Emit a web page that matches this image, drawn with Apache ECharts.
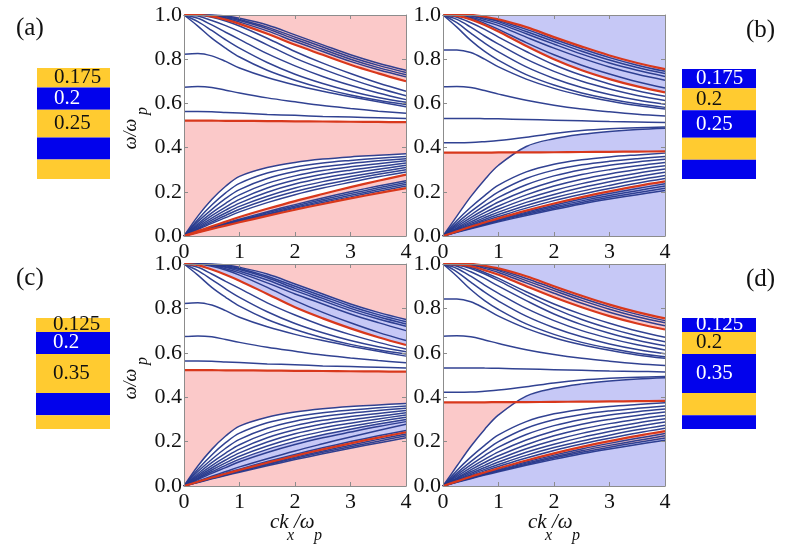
<!DOCTYPE html>
<html><head><meta charset="utf-8">
<script src="https://cdn.jsdelivr.net/npm/echarts@6/dist/echarts.min.js"></script>
<style>html,body{margin:0;padding:0;background:#fff}#c{width:798px;height:550px}</style>
</head><body><div id="c"></div>
<script>
// ---- sample points of the wavevector axis ck_x/omega_p
const kx = [0, 0.25, 0.5, 0.75, 1, 1.5, 2, 2.5, 3, 3.5, 4];

// ---- panels (a)/(c): upper family
const acU1 = [1.0, 1.0, 1.0, 0.995, 0.985, 0.955, 0.91, 0.865, 0.82, 0.782, 0.75];
const acU2 = [1.0, 1.0, 0.999, 0.992, 0.98, 0.945, 0.9, 0.855, 0.81, 0.772, 0.74];
const acU3 = [1.0, 1.0, 0.998, 0.988, 0.975, 0.938, 0.89, 0.845, 0.8, 0.762, 0.73];
const acU4 = [1.0, 1.0, 0.997, 0.985, 0.968, 0.928, 0.88, 0.835, 0.79, 0.752, 0.72];
const acU5 = [1.0, 1.0, 0.994, 0.979, 0.96, 0.915, 0.865, 0.82, 0.775, 0.736, 0.70];
const acW1 = [1.0, 0.999, 0.99, 0.973, 0.95, 0.895, 0.835, 0.782, 0.735, 0.692, 0.655];
const acW2 = [1.0, 0.995, 0.975, 0.952, 0.925, 0.865, 0.805, 0.755, 0.71, 0.67, 0.635];
const acW3 = [1.0, 0.985, 0.955, 0.922, 0.89, 0.825, 0.77, 0.722, 0.682, 0.647, 0.617];
const acW4 = [1.0, 0.97, 0.93, 0.888, 0.85, 0.785, 0.732, 0.69, 0.655, 0.627, 0.605];
const acW5 = [1.0, 0.95, 0.895, 0.85, 0.81, 0.75, 0.705, 0.668, 0.638, 0.614, 0.595];
const acW6 = [0.822, 0.826, 0.815, 0.79, 0.76, 0.717, 0.683, 0.655, 0.63, 0.607, 0.585];
const acW7 = [0.673, 0.676, 0.672, 0.66, 0.647, 0.625, 0.607, 0.59, 0.577, 0.565, 0.555];
const acW8 = [0.563, 0.563, 0.562, 0.559, 0.556, 0.55, 0.546, 0.541, 0.538, 0.535, 0.532];
const acR2 = [0.522, 0.522, 0.522, 0.521, 0.521, 0.52, 0.519, 0.518, 0.517, 0.516, 0.515];
// lower family
const acL1 = [0, 0.09, 0.165, 0.225, 0.27, 0.31, 0.333, 0.348, 0.358, 0.365, 0.372];
const acL2 = [0, 0.075, 0.14, 0.195, 0.238, 0.285, 0.312, 0.33, 0.342, 0.352, 0.36];
const acL3 = [0, 0.065, 0.12, 0.17, 0.21, 0.26, 0.292, 0.313, 0.328, 0.34, 0.35];
const acL4 = [0, 0.055, 0.105, 0.148, 0.186, 0.238, 0.272, 0.296, 0.313, 0.327, 0.34];
const acL5 = [0, 0.048, 0.092, 0.131, 0.166, 0.217, 0.253, 0.279, 0.298, 0.314, 0.33];
const acL6 = [0, 0.042, 0.081, 0.117, 0.149, 0.198, 0.235, 0.262, 0.283, 0.302, 0.32];
const acL7 = [0, 0.037, 0.072, 0.104, 0.134, 0.18, 0.217, 0.246, 0.269, 0.29, 0.31];
const acL8 = [0, 0.033, 0.064, 0.093, 0.121, 0.165, 0.201, 0.231, 0.256, 0.279, 0.30];
const acL9 = [0, 0.029, 0.057, 0.083, 0.109, 0.151, 0.187, 0.217, 0.243, 0.268, 0.29];
const acR3 = [0, 0.022, 0.044, 0.065, 0.086, 0.123, 0.158, 0.19, 0.221, 0.25, 0.278];
const acG1 = [0, 0.02, 0.04, 0.058, 0.076, 0.11, 0.142, 0.172, 0.2, 0.226, 0.25];
const acG2 = [0, 0.019, 0.038, 0.055, 0.072, 0.105, 0.136, 0.165, 0.192, 0.218, 0.242];
const acG3 = [0, 0.018, 0.036, 0.053, 0.069, 0.1, 0.13, 0.158, 0.184, 0.21, 0.234];
const acG4 = [0, 0.017, 0.034, 0.05, 0.066, 0.096, 0.125, 0.152, 0.177, 0.202, 0.226];
const acR4 = [0, 0.016, 0.032, 0.047, 0.062, 0.091, 0.119, 0.145, 0.17, 0.194, 0.217];

// ---- panels (b)/(d): upper family
const bdR1 = [1.0, 1.0, 1.0, 0.992, 0.98, 0.945, 0.9, 0.857, 0.817, 0.783, 0.755];
const bdU1 = [1.0, 1.0, 0.999, 0.99, 0.975, 0.935, 0.89, 0.847, 0.807, 0.773, 0.745];
const bdU2 = [1.0, 1.0, 0.998, 0.986, 0.97, 0.925, 0.88, 0.836, 0.796, 0.762, 0.735];
const bdU3 = [1.0, 0.999, 0.995, 0.98, 0.962, 0.915, 0.868, 0.823, 0.783, 0.75, 0.722];
const bdU4 = [1.0, 0.998, 0.99, 0.972, 0.952, 0.9, 0.85, 0.805, 0.765, 0.732, 0.705];
const bdU5 = [1.0, 0.997, 0.985, 0.962, 0.935, 0.875, 0.82, 0.773, 0.733, 0.698, 0.67];
const bdR2 = [1.0, 0.996, 0.98, 0.955, 0.925, 0.86, 0.8, 0.75, 0.71, 0.677, 0.65];
const bdW1 = [1.0, 0.99, 0.965, 0.935, 0.9, 0.835, 0.775, 0.727, 0.688, 0.657, 0.632];
const bdW2 = [1.0, 0.98, 0.945, 0.905, 0.868, 0.8, 0.745, 0.7, 0.665, 0.636, 0.613];
const bdW3 = [1.0, 0.965, 0.918, 0.873, 0.833, 0.765, 0.713, 0.672, 0.64, 0.615, 0.596];
const bdW4 = [1.0, 0.945, 0.885, 0.835, 0.795, 0.73, 0.683, 0.647, 0.62, 0.598, 0.582];
const bdW5 = [0.842, 0.842, 0.83, 0.8, 0.765, 0.71, 0.668, 0.636, 0.611, 0.59, 0.575];
const bdW6 = [0.675, 0.677, 0.672, 0.658, 0.642, 0.614, 0.592, 0.575, 0.562, 0.551, 0.543];
const bdW7 = [0.532, 0.532, 0.532, 0.531, 0.53, 0.527, 0.524, 0.521, 0.518, 0.516, 0.514];
const bdW8 = [0.422, 0.422, 0.423, 0.427, 0.432, 0.447, 0.464, 0.477, 0.485, 0.49, 0.493];
const bdR3 = [0.377, 0.377, 0.377, 0.377, 0.378, 0.378, 0.379, 0.38, 0.381, 0.382, 0.383];
const bdS  = [0, 0.09, 0.178, 0.255, 0.32, 0.405, 0.44, 0.46, 0.473, 0.482, 0.488];
// lower family
const bdB1 = [0, 0.07, 0.13, 0.183, 0.23, 0.29, 0.325, 0.345, 0.358, 0.367, 0.375];
const bdB2 = [0, 0.058, 0.11, 0.157, 0.2, 0.26, 0.298, 0.322, 0.338, 0.35, 0.36];
const bdB3 = [0, 0.05, 0.095, 0.137, 0.175, 0.232, 0.272, 0.3, 0.32, 0.335, 0.347];
const bdB4 = [0, 0.043, 0.083, 0.12, 0.154, 0.207, 0.248, 0.278, 0.3, 0.318, 0.333];
const bdB5 = [0, 0.037, 0.073, 0.106, 0.136, 0.186, 0.226, 0.257, 0.281, 0.301, 0.318];
const bdB6 = [0, 0.033, 0.064, 0.093, 0.121, 0.168, 0.206, 0.237, 0.262, 0.284, 0.303];
const bdB7 = [0, 0.029, 0.057, 0.083, 0.108, 0.152, 0.188, 0.219, 0.245, 0.268, 0.288];
const bdB8 = [0, 0.026, 0.051, 0.075, 0.097, 0.138, 0.173, 0.203, 0.229, 0.253, 0.274];
const bdB9 = [0, 0.023, 0.046, 0.068, 0.088, 0.126, 0.16, 0.189, 0.215, 0.239, 0.26];
const bdR4 = [0, 0.021, 0.042, 0.061, 0.08, 0.115, 0.147, 0.176, 0.202, 0.226, 0.247];
const bdG1 = [0, 0.02, 0.039, 0.057, 0.075, 0.108, 0.139, 0.167, 0.192, 0.215, 0.236];
const bdG2 = [0, 0.019, 0.037, 0.054, 0.071, 0.103, 0.132, 0.159, 0.183, 0.205, 0.226];
const bdG3 = [0, 0.018, 0.035, 0.052, 0.068, 0.098, 0.126, 0.152, 0.175, 0.196, 0.216];
const bdG4 = [0, 0.017, 0.033, 0.049, 0.064, 0.093, 0.12, 0.145, 0.167, 0.187, 0.206];

// ---- layer stacks (thicknesses)
const stackAB = [0.175, 0.2, 0.25, 0.2, 0.175];
const stackCD = [0.125, 0.2, 0.35, 0.2, 0.125];
const yTicks = [0, 0.2, 0.4, 0.6, 0.8, 1.0];
const xTicks = [0, 1, 2, 3, 4];

// ---------------------------------------------------------------
const PINK = '#fbc9c9', LAV = '#c6c8f6', WHITE = '#ffffff';
const BLUE = '#26388c', RED = '#d8381c';
const YEL = '#ffcb30', DBLUE = '#0202ec';
const FONT = 'Liberation Serif';

const pts = a => kx.map((k, i) => [k, a[i]]);
function cross(a, b, i) {
  const d0 = a[i] - b[i], d1 = a[i + 1] - b[i + 1];
  if (d0 * d1 < 0) {
    const t = d0 / (d0 - d1);
    return [kx[i] + t * (kx[i + 1] - kx[i]), a[i] + t * (a[i + 1] - a[i])];
  }
  return null;
}
function env(a, b, useMin) {
  const out = [];
  for (let i = 0; i < kx.length; i++) {
    out.push([kx[i], useMin ? Math.min(a[i], b[i]) : Math.max(a[i], b[i])]);
    if (i < kx.length - 1) { const c = cross(a, b, i); if (c) out.push(c); }
  }
  return out;
}
function sPts(a, b) {
  const out = [];
  for (let i = 0; i < kx.length; i++) {
    out.push([kx[i], a[i]]);
    if (i < kx.length - 1) { const c = cross(a, b, i); if (c) out.push(c); }
  }
  return out;
}

const acLower = [acL1, acL2, acL3, acL4, acL5, acL6, acL7, acL8, acL9, acG1, acG2, acG3, acG4];
const bdLower = [bdS, bdB1, bdB2, bdB3, bdB4, bdB5, bdB6, bdB7, bdB8, bdB9, bdG1, bdG2, bdG3, bdG4];

const panels = [
  { grid: { left: 184, top: 15, width: 222, height: 221 }, bg: PINK,
    blue: [acU1, acU2, acU3, acU4, acW1, acW2, acW3, acW4, acW5, acW6, acW7, acW8].concat(acLower),
    red: [acU5, acR2, acR3, acR4],
    fills: [
      { c: WHITE, lo: pts(acR2), hi: pts(acU5) },
      { c: WHITE, lo: pts(acR3), hi: pts(acL1) },
      { c: WHITE, lo: pts(acR4), hi: pts(acG1) }] },
  { grid: { left: 443, top: 15, width: 222, height: 221 }, bg: LAV,
    blue: [bdU1, bdU2, bdU3, bdU4, bdU5, bdW1, bdW2, bdW3, bdW4, bdW5, bdW6, bdW7, bdW8].concat(bdLower),
    red: [bdR1, bdR2, bdR3, bdR4],
    fills: [
      { c: WHITE, lo: pts(bdW8), hi: pts(bdR2) },
      { c: WHITE, lo: env(bdS, bdR3, false), hi: pts(bdW8) },
      { c: PINK, lo: sPts(bdS, bdR3), hi: env(bdS, bdR3, false) },
      { c: WHITE, lo: pts(bdR4), hi: env(bdS, bdR3, true) }] },
  { grid: { left: 184, top: 264, width: 222, height: 222 }, bg: PINK,
    blue: [acU1, acU2, acU3, acU4, acU5, acW1, acW3, acW4, acW5, acW6, acW7, acW8, acR3, acR4,
      acL1, acL2, acL3, acL4, acL5, acL6, acL7, acL8, acL9, acG1, acG3, acG4],
    red: [acW2, acR2, acG2],
    fills: [
      { c: LAV, lo: pts(acW2), hi: pts(acU1) },
      { c: WHITE, lo: pts(acR2), hi: pts(acW2) },
      { c: WHITE, lo: pts(acL8), hi: pts(acL1) },
      { c: LAV, lo: pts(acG2), hi: pts(acL8) }] },
  { grid: { left: 443, top: 264, width: 222, height: 222 }, bg: LAV,
    blue: [bdU1, bdU2, bdU3, bdU5, bdR2, bdW1, bdW2, bdW3, bdW4, bdW5, bdW6, bdW7, bdW8].concat(bdLower),
    red: [bdR1, bdU4, bdR3, bdR4],
    fills: [
      { c: PINK, lo: pts(bdU4), hi: pts(bdR1) },
      { c: WHITE, lo: pts(bdW8), hi: pts(bdU4) },
      { c: WHITE, lo: env(bdS, bdR3, false), hi: pts(bdW8) },
      { c: PINK, lo: sPts(bdS, bdR3), hi: env(bdS, bdR3, false) },
      { c: WHITE, lo: pts(bdR4), hi: env(bdS, bdR3, true) },
      { c: PINK, lo: pts(bdG3), hi: pts(bdR4) }] }
];

const grids = [], xAxes = [], yAxes = [], series = [];
const AX = '#8c8c8c';
const lbl = { fontFamily: FONT, fontSize: 22, color: '#111' };
panels.forEach((p, gi) => {
  grids.push(Object.assign({ show: true, backgroundColor: p.bg, borderWidth: 0 }, p.grid));
  const base = { gridIndex: gi, type: 'value', z: 10, splitLine: { show: false },
    axisLine: { show: true, onZero: false, lineStyle: { color: AX, width: 1 } },
    axisTick: { show: true, inside: true, length: 4, lineStyle: { color: AX } } };
  const xr = { min: xTicks[0], max: xTicks[xTicks.length - 1], interval: 1 };
  const yr = { min: yTicks[0], max: yTicks[yTicks.length - 1], interval: 0.2 };
  xAxes.push(Object.assign({}, base, xr, { position: 'bottom', axisLabel: Object.assign({ margin: 5 }, lbl) }));
  xAxes.push(Object.assign({}, base, xr, { position: 'top', axisLabel: { show: false } }));
  yAxes.push(Object.assign({}, base, yr, { position: 'left',
    axisLabel: Object.assign({ margin: 2, formatter: v => v.toFixed(1) }, lbl) }));
  yAxes.push(Object.assign({}, base, yr, { position: 'right', axisLabel: { show: false } }));
  const xi = gi * 2, yi = gi * 2;
  p.fills.forEach(f => {
    series.push({ type: 'custom', xAxisIndex: xi, yAxisIndex: yi, silent: true, z: 1,
      data: [[0, 0]],
      renderItem: (params, api) => {
        const poly = f.hi.map(q => api.coord(q)).concat(f.lo.slice().reverse().map(q => api.coord(q)));
        return { type: 'polygon', shape: { points: poly }, style: { fill: f.c, stroke: null } };
      } });
  });
  p.blue.forEach(a => series.push({ type: 'line', xAxisIndex: xi, yAxisIndex: yi, data: pts(a),
    showSymbol: false, smooth: 0.35, silent: true, z: 3,
    lineStyle: { color: BLUE, width: 1.5, opacity: 0.95 } }));
  p.red.forEach(a => series.push({ type: 'line', xAxisIndex: xi, yAxisIndex: yi, data: pts(a),
    showSymbol: false, smooth: 0.35, silent: true, z: 4,
    lineStyle: { color: RED, width: 2.2 } }));
});

// ---- layer stack diagrams
const stacks = [
  { box: { left: 37, top: 68, width: 73, height: 111 }, vals: stackAB, firstYellow: true, off: 17 },
  { box: { left: 682, top: 69, width: 74, height: 110 }, vals: stackAB, firstYellow: false, off: 14 },
  { box: { left: 36, top: 318, width: 74, height: 111 }, vals: stackCD, firstYellow: true, off: 17 },
  { box: { left: 682, top: 318, width: 74, height: 111 }, vals: stackCD, firstYellow: false, off: 14 }
];
stacks.forEach((s, j) => {
  const gi = 4 + j;
  grids.push(Object.assign({ show: false }, s.box));
  xAxes.push({ gridIndex: gi, type: 'category', data: [''], show: false });
  yAxes.push({ gridIndex: gi, type: 'value', min: 0, max: 1, inverse: true, show: false });
  s.vals.forEach((v, i) => {
    const yellow = (i % 2 === 0) === s.firstYellow;
    series.push({ type: 'bar', xAxisIndex: xAxes.length - 1, yAxisIndex: yAxes.length - 1,
      stack: 'st' + j, barWidth: '100%', barCategoryGap: 0, silent: true, data: [v],
      itemStyle: { color: yellow ? YEL : DBLUE },
      label: { show: i < 3, formatter: String(v), position: [s.off, '50%'], verticalAlign: 'middle', align: 'left',
        fontFamily: FONT, fontSize: 21, color: yellow ? '#111' : '#ffffff' } });
  });
});

// ---- texts
const tx = (x, y, t, size, opt) => Object.assign({ type: 'text', x, y, silent: true,
  style: { text: t, fontFamily: FONT, fontSize: size, fontStyle: (opt && opt.italic) ? 'italic' : 'normal',
    fill: '#111', align: (opt && opt.align) || 'left', verticalAlign: 'middle' } }, (opt && opt.extra) || {});
const graphics = [
  tx(16, 28, '(a)', 25), tx(746, 30, '(b)', 25), tx(16, 278, '(c)', 25), tx(746, 279, '(d)', 25)
];
function yTitle(cx, cy) {
  graphics.push(tx(cx, cy, 'ω/ω', 18, { italic: true, align: 'center', extra: { rotation: Math.PI / 2 } }));
  graphics.push(tx(cx + 12, cy - 23, 'p', 16, { italic: true, align: 'center', extra: { rotation: Math.PI / 2 } }));
}
yTitle(131, 134); yTitle(131, 384);
function xTitle(x0, y) {
  graphics.push(tx(x0, y, 'ck', 21, { italic: true }));
  graphics.push(tx(x0 + 17, y + 14, 'x', 16, { italic: true }));
  graphics.push(tx(x0 + 24, y, '/ω', 21, { italic: true }));
  graphics.push(tx(x0 + 44, y + 14, 'p', 16, { italic: true }));
}
xTitle(270, 522); xTitle(528, 522);

const chart = echarts.init(document.getElementById('c'), null, { renderer: 'canvas' });
chart.setOption({ animation: false, backgroundColor: '#fff', grid: grids, xAxis: xAxes, yAxis: yAxes,
  series: series, graphic: graphics });
</script></body></html>
